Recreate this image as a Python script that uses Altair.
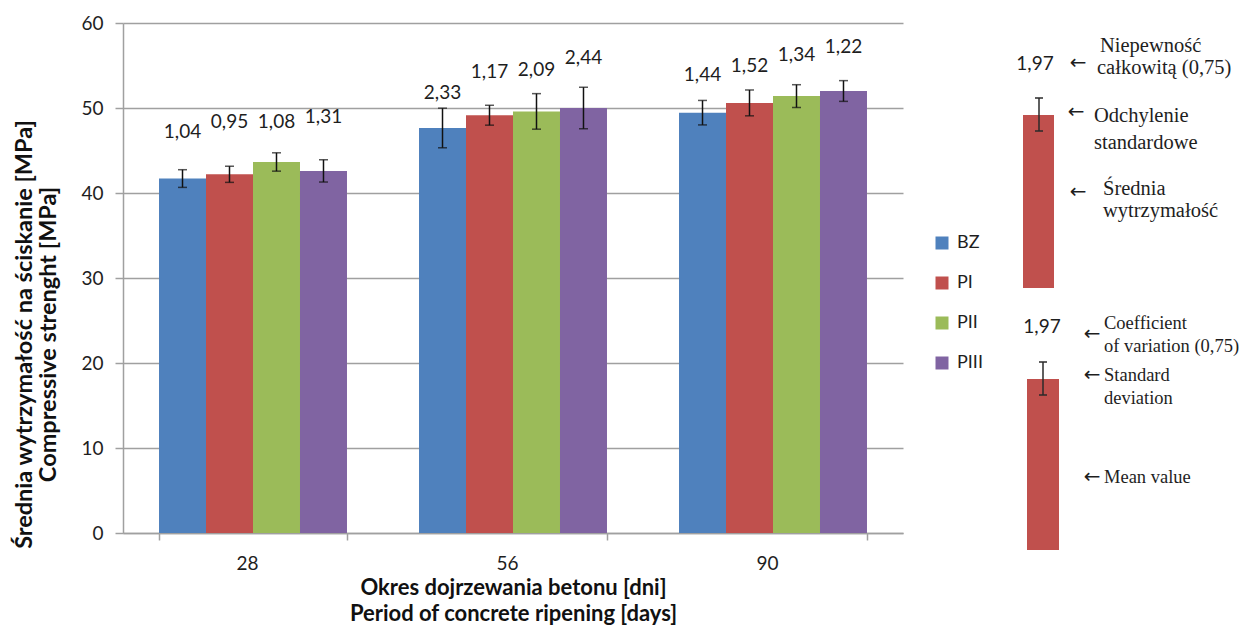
import altair as alt
import pandas as pd

# ---- data ----
periods = ["28", "56", "90"]
series = ["BZ", "PI", "PII", "PIII"]
colors = ["#4F81BD", "#C0504D", "#9BBB59", "#8064A2"]

mean_28 = [41.7, 42.2, 43.65, 42.6]
mean_56 = [47.65, 49.15, 49.6, 50.0]
mean_90 = [49.45, 50.6, 51.4, 52.0]

sd_28 = [1.04, 0.95, 1.08, 1.31]
sd_56 = [2.33, 1.17, 2.09, 2.44]
sd_90 = [1.44, 1.52, 1.34, 1.22]

# height (in MPa) at which each value label sits in the picture
lab_28 = [47.2, 48.4, 48.4, 49.0]
lab_56 = [51.8, 54.2, 54.5, 55.9]
lab_90 = [53.85, 55.0, 56.2, 57.2]

y_ticks = [0, 10, 20, 30, 40, 50, 60]

rows = []
for p, ms, ss, ls in zip(periods, [mean_28, mean_56, mean_90],
                         [sd_28, sd_56, sd_90], [lab_28, lab_56, lab_90]):
    for s, m, sd, l in zip(series, ms, ss, ls):
        rows.append({"period": p, "series": s, "mean": m,
                     "lo": m - sd, "hi": m + sd, "label_y": l,
                     "label": f"{sd:.2f}".replace(".", ",")})
df = pd.DataFrame(rows)

SANS = "Lato"
SERIF = "Liberation Serif"
GRID = "#a0a0a0"
TXT = "#1e1e1e"

# plot-area origin on the page (for the explanatory key drawn to the right)
OX, OY = 123, 23

x_enc = alt.X("period:N", sort=periods,
              scale=alt.Scale(paddingInner=0.277, paddingOuter=0.1385),
              axis=alt.Axis(title=["Okres dojrzewania betonu [dni]",
                                   "Period of concrete ripening [days]"],
                            labelAngle=0, tickBand="extent", grid=False,
                            domainColor=GRID, domainWidth=1.5,
                            tickColor=GRID, tickWidth=1.5, tickSize=7,
                            labelFont=SANS, labelFontSize=19, labelColor=TXT,
                            labelPadding=14, labelOffset=-6,
                            titleFont=SANS, titleFontSize=22, titleFontWeight="bold",
                            titleColor="#111", titleLineHeight=26,
                            titleBaseline="middle", titleY=54))
xo_enc = alt.XOffset("series:N", sort=series, scale=alt.Scale(paddingInner=0, paddingOuter=0))
y_scale = alt.Scale(domain=[0, 60], nice=False)

bars = alt.Chart(df).mark_bar().encode(
    x=x_enc, xOffset=xo_enc,
    y=alt.Y("mean:Q", scale=y_scale,
            axis=alt.Axis(values=y_ticks,
                          title=["Średnia wytrzymałość na ściskanie [MPa]",
                                 "Compressive strenght [MPa]"],
                          grid=True, gridColor=GRID, gridWidth=1.5,
                          domainColor=GRID, domainWidth=1.5,
                          tickColor=GRID, tickWidth=1.5, tickSize=8,
                          labelFont=SANS, labelFontSize=19, labelColor=TXT,
                          labelPadding=12,
                          titleFont=SANS, titleFontSize=23.5, titleFontWeight="bold",
                          titleColor="#111", titleLineHeight=24,
                          titleAngle=-90, titleAlign="center", titleBaseline="middle",
                          titleX=-99, titleY=311)),
    color=alt.Color("series:N", sort=series,
                    scale=alt.Scale(domain=series, range=colors),
                    legend=alt.Legend(orient="none", legendX=810, legendY=211,
                                      title=None, symbolType="square", symbolSize=169,
                                      symbolStrokeWidth=0, symbolOpacity=1,
                                      labelFont=SANS, labelFontSize=18, labelColor=TXT,
                                      labelOffset=6, rowPadding=22, padding=0)),
)

err = alt.Chart(df).mark_rule(color="#111", strokeWidth=1.5).encode(
    x=alt.X("period:N", sort=periods), xOffset=xo_enc,
    y=alt.Y("lo:Q", scale=y_scale), y2="hi:Q")
cap_hi = alt.Chart(df).mark_tick(color="#111", thickness=1.5, size=9).encode(
    x=alt.X("period:N", sort=periods), xOffset=xo_enc, y=alt.Y("hi:Q", scale=y_scale))
cap_lo = alt.Chart(df).mark_tick(color="#111", thickness=1.5, size=9).encode(
    x=alt.X("period:N", sort=periods), xOffset=xo_enc, y=alt.Y("lo:Q", scale=y_scale))
labels = alt.Chart(df).mark_text(font=SANS, fontSize=19, color=TXT, baseline="middle").encode(
    x=alt.X("period:N", sort=periods), xOffset=xo_enc,
    y=alt.Y("label_y:Q", scale=y_scale), text="label:N")

# ---- explanatory key on the right (a schematic, positioned in pixels) ----
one = pd.DataFrame({"k": [0]})


def txt(s, px, py, size=20.5, font=SERIF, align="left"):
    return alt.Chart(one).mark_text(text=s, font=font, fontSize=size, color=TXT,
                                    align=align, baseline="middle").encode(
        x=alt.value(px - OX), y=alt.value(py - OY))


def arrow(px, py):
    return txt("←", px, py, size=20, font="DejaVu Sans", align="center")


def key_bar(x0, x1, y0, y1):
    return alt.Chart(one).mark_rect(color="#C0504D").encode(
        x=alt.value(x0 - OX), x2=alt.value(x1 - OX),
        y=alt.value(y0 - OY), y2=alt.value(y1 - OY))


def key_err(cx, y0, y1):
    line = alt.Chart(one).mark_rule(color="#2a2a2a", strokeWidth=1.5).encode(
        x=alt.value(cx - OX), y=alt.value(y0 - OY), y2=alt.value(y1 - OY))
    c1 = alt.Chart(one).mark_rule(color="#2a2a2a", strokeWidth=1.5).encode(
        x=alt.value(cx - 4 - OX), x2=alt.value(cx + 4 - OX), y=alt.value(y0 - OY))
    c2 = alt.Chart(one).mark_rule(color="#2a2a2a", strokeWidth=1.5).encode(
        x=alt.value(cx - 4 - OX), x2=alt.value(cx + 4 - OX), y=alt.value(y1 - OY))
    return [line, c1, c2]


EN = 18.5
key = [
    txt("1,97", 1035, 64, size=19, font=SANS, align="center"),
    arrow(1078, 63),
    txt("Niepewność", 1100, 46), txt("całkowitą (0,75)", 1097, 68),
    arrow(1076, 112),
    txt("Odchylenie", 1094, 116), txt("standardowe", 1094, 143),
    arrow(1078, 192),
    txt("Średnia", 1103, 189), txt("wytrzymałość", 1103, 211),
    key_bar(1023, 1054, 115, 288), *key_err(1039, 98, 131),
    txt("1,97", 1042, 327, size=19, font=SANS, align="center"),
    arrow(1092, 334),
    txt("Coefficient", 1104, 323, size=EN), txt("of variation (0,75)", 1104, 346, size=EN),
    arrow(1092, 375),
    txt("Standard", 1104, 375, size=EN), txt("deviation", 1104, 398, size=EN),
    arrow(1092, 477),
    txt("Mean value", 1104, 477, size=EN),
    key_bar(1027, 1059, 379, 550), *key_err(1043, 362, 395),
]

chart = alt.layer(bars, err, cap_hi, cap_lo, labels, *key).properties(
    width=780, height=510,
    autosize=alt.AutoSizeParams(type="none"),
    padding={"left": 115, "top": 15, "right": 339, "bottom": 92},
    background="white",
).configure_view(stroke=None)

chart.save("out.html", embed_options={"renderer": "svg", "actions": False})
